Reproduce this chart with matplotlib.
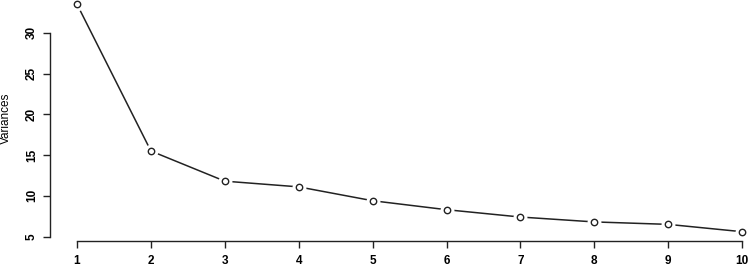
import matplotlib
matplotlib.use("Agg")
import matplotlib.pyplot as plt

components = [1, 2, 3, 4, 5, 6, 7, 8, 9, 10]
variances = [33.5, 15.5, 11.8, 11.1, 9.4, 8.3, 7.4, 6.8, 6.5, 5.6]
yticks = [5, 10, 15, 20, 25, 30]

plt.rcParams['font.family'] = ['Liberation Sans', 'DejaVu Sans']

fig = plt.figure(figsize=(7.49, 2.65), dpi=100)
ax = fig.add_axes([0.0673, 0.0913, 0.959, 0.927])

ax.plot(components, variances, color='#222222', lw=1.1, zorder=1)
ax.plot(components, variances, ls='none', marker='o', ms=9, mfc='white', mec='white', zorder=2)
ax.plot(components, variances, ls='none', marker='o', ms=4.6, mfc='white', mec='#222222', mew=1.0, zorder=3)

ymin, ymax = min(variances), max(variances)
pad = 0.04 * (ymax - ymin)
ax.set_ylim(ymin - pad, ymax + pad)
xpad = 0.04 * (components[-1] - components[0])
ax.set_xlim(components[0] - xpad, components[-1] + xpad)

for s in ['top', 'right']:
    ax.spines[s].set_visible(False)
ax.spines['left'].set_bounds(yticks[0], yticks[-1])
ax.spines['bottom'].set_bounds(components[0], components[-1])
for s in ['left', 'bottom']:
    ax.spines[s].set_linewidth(1.0)
    ax.spines[s].set_color('#222222')

ax.set_xticks(components)
ax.set_xticklabels([str(c) for c in components], fontsize=8.5, fontweight='bold')
ax.set_yticks(yticks)
ax.set_yticklabels([str(t) for t in yticks], fontsize=8.5, fontweight='bold', rotation=90, va='center')
ax.tick_params(axis='both', length=5, width=1.0, color='#222222', pad=4)
ax.tick_params(axis='x', pad=5)
ax.set_ylabel('Variances', fontsize=8.5)
ax.yaxis.set_label_coords(-0.054, 0.5)
ax.patch.set_alpha(0)

fig.savefig('out.png', dpi=100)
